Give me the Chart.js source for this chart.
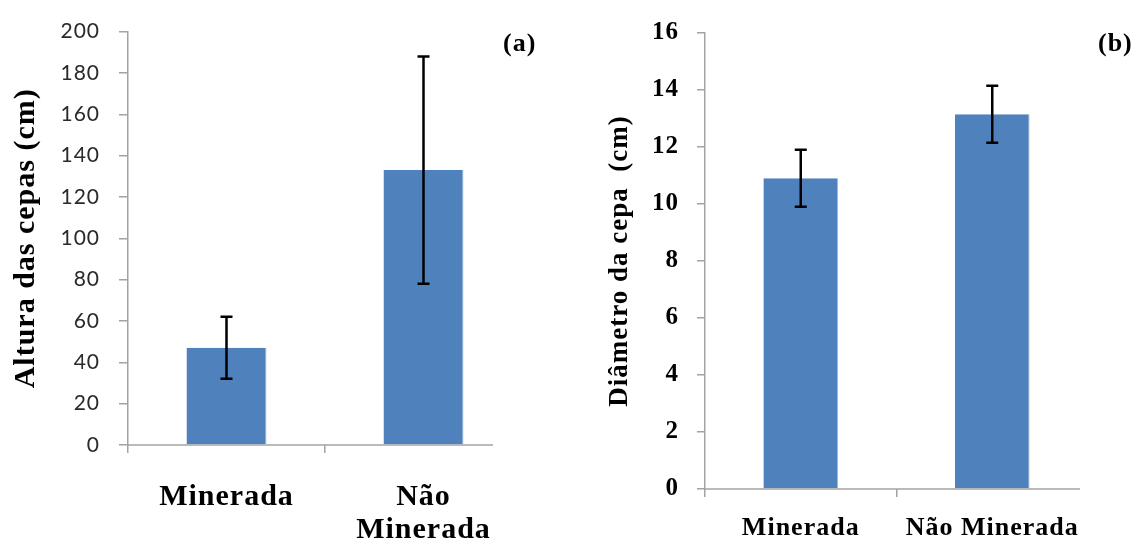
<!DOCTYPE html>
<html>
<head>
<meta charset="utf-8">
<script src="https://cdn.jsdelivr.net/npm/chart.js@4.4.1/dist/chart.umd.min.js"></script>
<style>
  html, body { margin: 0; padding: 0; background: #fff; }
  body { width: 1135px; height: 540px; position: relative; overflow: hidden; }
  .panel { position: absolute; top: 0; height: 540px; }
  #alturaPanel { left: 0; width: 560px; }
  #diametroPanel { left: 570px; width: 565px; }
  .tag { position: absolute; top: 30px; font: bold 26px "Liberation Serif", serif; letter-spacing: 1px; line-height: 1; color: #000; }
</style>
</head>
<body>
<div class="panel" id="alturaPanel"><canvas id="alturaChart"></canvas></div>
<div class="panel" id="diametroPanel"><canvas id="diametroChart"></canvas></div>
<div class="tag" style="left:503px">(a)</div>
<div class="tag" style="left:1098px">(b)</div>

<script>
// categorias e valores (média ± desvio)
const alturaLabels = ['Minerada', ['Não', 'Minerada']];
const diametroLabels = ['Minerada', 'Não Minerada'];

const alturaMeans = [47, 133];
const alturaErrors = [15, 55];

const diametroMeans = [10.9, 13.15];
const diametroErrors = [1.0, 1.0];

// [min, max, passo] dos eixos y
const alturaAxis = [0, 200, 20];
const diametroAxis = [0, 16, 2];

const BAR_COLOR = '#4f81bd';
const AXIS_COLOR = '#a3a3a3';

// barras de erro desenhadas sobre as barras
const errorBars = {
  id: 'errorBars',
  afterDatasetsDraw(chart, args, opts) {
    const { ctx, scales: { y } } = chart;
    const meta = chart.getDatasetMeta(0);
    const means = chart.data.datasets[0].data;
    ctx.save();
    ctx.strokeStyle = '#000';
    ctx.lineWidth = 2.5;
    meta.data.forEach((bar, i) => {
      const top = y.getPixelForValue(means[i] + opts.errors[i]);
      const bottom = y.getPixelForValue(means[i] - opts.errors[i]);
      ctx.beginPath();
      ctx.moveTo(bar.x, top);
      ctx.lineTo(bar.x, bottom);
      ctx.moveTo(bar.x - 6, top);
      ctx.lineTo(bar.x + 6, top);
      ctx.moveTo(bar.x - 6, bottom);
      ctx.lineTo(bar.x + 6, bottom);
      ctx.stroke();
    });
    ctx.restore();
  }
};

// linha do eixo x (termina antes da borda da área)
const baseLine = {
  id: 'baseLine',
  beforeDatasetsDraw(chart, args, opts) {
    const { ctx, chartArea, scales: { y } } = chart;
    const yy = y.getPixelForValue(0);
    ctx.save();
    ctx.strokeStyle = AXIS_COLOR;
    ctx.lineWidth = 1.5;
    ctx.beginPath();
    ctx.moveTo(chartArea.left, yy);
    ctx.lineTo(opts.end, yy);
    ctx.stroke();
    ctx.restore();
  }
};

// espaçamento entre letras dos textos do canvas
const spacing = {
  id: 'spacing',
  beforeDraw(chart, args, opts) {
    chart.ctx.letterSpacing = opts.value;
  }
};

function buildChart(canvasId, cfg) {
  const ctx = document.getElementById(canvasId).getContext('2d');
  return new Chart(ctx, {
    type: 'bar',
    data: {
      labels: cfg.labels,
      datasets: [{
        data: cfg.means,
        backgroundColor: BAR_COLOR,
        borderColor: '#9bb9de',
        borderWidth: { top: 0, left: 0, bottom: 0, right: 1 },
        borderSkipped: false,
        barPercentage: cfg.barPct,
        categoryPercentage: 1
      }]
    },
    options: {
      responsive: true,
      maintainAspectRatio: false,
      animation: false,
      layout: { padding: { left: 0, top: 29, right: cfg.padRight, bottom: 0 } },
      plugins: {
        legend: { display: false },
        tooltip: { enabled: false },
        errorBars: { errors: cfg.errors },
        baseLine: { end: cfg.axisEnd },
        spacing: { value: cfg.letterSpacing }
      },
      scales: {
        x: {
          offset: true,
          afterFit: s => { s.height = cfg.xHeight; },
          grid: {
            drawOnChartArea: false,
            tickLength: 8,
            lineWidth: 1.5,
            color: c => c.type === 'tick' ? AXIS_COLOR : 'transparent'
          },
          border: { display: false },
          ticks: {
            color: '#000',
            padding: cfg.xPad,
            maxRotation: 0,
            autoSkip: false,
            font: { family: 'Liberation Serif', weight: 'bold', size: cfg.xFont, lineHeight: 1.12 }
          }
        },
        y: {
          min: cfg.axis[0],
          max: cfg.axis[1],
          afterFit: s => { s.width = cfg.yWidth; },
          grid: { drawOnChartArea: false, tickLength: cfg.yTick, lineWidth: 1.5, color: AXIS_COLOR },
          border: { color: AXIS_COLOR, width: 1.5 },
          ticks: {
            stepSize: cfg.axis[2],
            padding: cfg.yPad,
            color: cfg.yTickColor,
            font: cfg.yTickFont
          },
          title: {
            display: true,
            text: cfg.title,
            color: '#000',
            padding: { top: cfg.titlePad, bottom: 0 },
            font: { family: 'Liberation Serif', weight: 'bold', size: cfg.titleFont, lineHeight: 1.2 }
          }
        }
      }
    },
    plugins: [errorBars, baseLine, spacing]
  });
}

buildChart('alturaChart', {
  labels: alturaLabels,
  means: alturaMeans,
  errors: alturaErrors,
  axis: alturaAxis,
  title: 'Altura das cepas (cm)',
  barPct: 0.406,
  padRight: 38,
  axisEnd: 493,
  xHeight: 95,
  xPad: 27,
  xFont: 30,
  yWidth: 128,
  yTick: 9,
  yPad: 19,
  yTickColor: '#2a2a2a',
  yTickFont: { family: 'Lato', size: 21 },
  titleFont: 30,
  titlePad: 8,
  letterSpacing: '1px'
});

buildChart('diametroChart', {
  labels: diametroLabels,
  means: diametroMeans,
  errors: diametroErrors,
  axis: diametroAxis,
  title: 'Diâmetro da cepa  (cm)',
  barPct: 0.39,
  padRight: 47,
  axisEnd: 510,
  xHeight: 51,
  xPad: 17,
  xFont: 26,
  yWidth: 135,
  yTick: 8,
  yPad: 18,
  yTickColor: '#000',
  yTickFont: { family: 'Liberation Serif', weight: 'bold', size: 25 },
  titleFont: 27,
  titlePad: 34,
  letterSpacing: '1px'
});
</script>
</body>
</html>
